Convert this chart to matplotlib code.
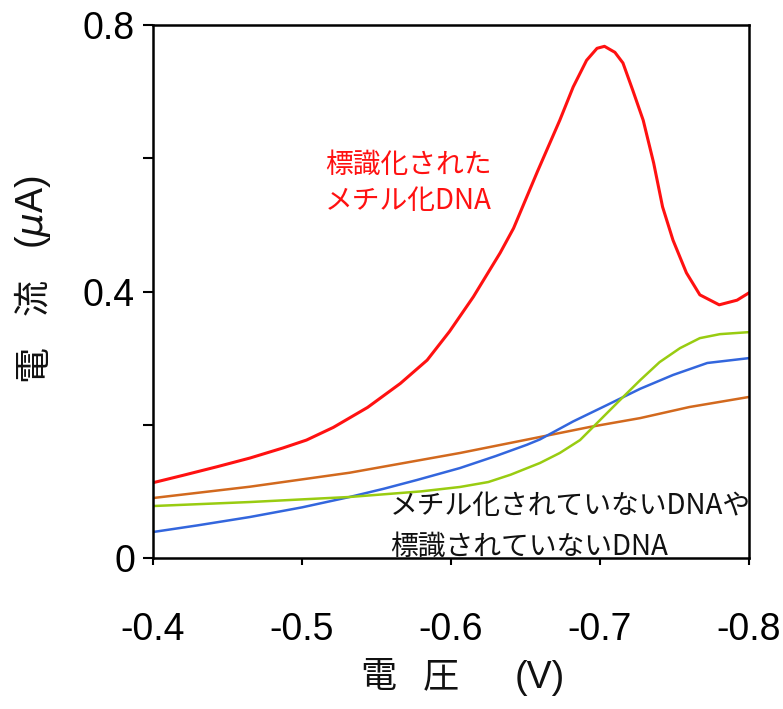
import matplotlib
matplotlib.use("Agg")
import matplotlib.pyplot as plt

# ---- data ----
red_x = [-0.400, -0.420, -0.443, -0.465, -0.487, -0.503, -0.521, -0.544, -0.566, -0.584, -0.599, -0.615,
         -0.633, -0.642, -0.658, -0.673, -0.682, -0.691, -0.698, -0.703, -0.710, -0.7154,
         -0.722, -0.729, -0.736, -0.742, -0.749, -0.758, -0.767, -0.780, -0.792, -0.800]
red_y = [0.113, 0.124, 0.137, 0.150, 0.165, 0.177, 0.196, 0.226, 0.262, 0.297, 0.340, 0.392,
         0.458, 0.495, 0.580, 0.657, 0.707, 0.747, 0.765, 0.768, 0.759, 0.743,
         0.702, 0.657, 0.593, 0.527, 0.477, 0.428, 0.395, 0.380, 0.387, 0.398]

blue_x = [-0.400, -0.430, -0.465, -0.500, -0.532, -0.555, -0.577, -0.606, -0.630, -0.651, -0.6597,
          -0.682, -0.7047, -0.727, -0.749, -0.772, -0.800]
blue_y = [0.039, 0.049, 0.0615, 0.076, 0.0916, 0.104, 0.117, 0.135, 0.153, 0.170, 0.178,
          0.205, 0.2296, 0.254, 0.2747, 0.2927, 0.300]

green_x = [-0.400, -0.465, -0.532, -0.580, -0.606, -0.625, -0.640, -0.6597, -0.673, -0.6866, -0.700,
           -0.7134, -0.727, -0.740, -0.7537, -0.767, -0.7805, -0.800]
green_y = [0.078, 0.084, 0.0916, 0.100, 0.1066, 0.114, 0.125, 0.1426, 0.1576, 0.177, 0.207,
           0.237, 0.267, 0.294, 0.315, 0.330, 0.336, 0.339]

orange_x = [-0.400, -0.465, -0.532, -0.606, -0.6597, -0.693, -0.727, -0.760, -0.800]
orange_y = [0.090, 0.107, 0.128, 0.1576, 0.1816, 0.1966, 0.210, 0.2266, 0.2417]

x_ticks = [-0.4, -0.5, -0.6, -0.7, -0.8]
x_ticklabels = ["-0.4", "-0.5", "-0.6", "-0.7", "-0.8"]
y_ticks = [0, 0.2, 0.4, 0.6, 0.8]
y_ticklabels = ["0", "", "0.4", "", "0.8"]

xlabel_parts = ["電", "圧", "(V)"]
ylabel_parts = ["電", "流", "($\\mu$A)"]
red_label = ["標識化された", "メチル化DNA"]
black_label = ["メチル化されていないDNAや", "標識されていないDNA"]

W, H = 783, 709
fig = plt.figure(figsize=(W / 100, H / 100), dpi=100)
ax = fig.add_axes([153 / W, 1 - 558 / H, (749 - 153) / W, (558 - 25) / H])

ax.plot(orange_x, orange_y, color="#d2691e", lw=1.8)
ax.plot(blue_x, blue_y, color="#3366dd", lw=1.8)
ax.plot(green_x, green_y, color="#99cc11", lw=1.8)
ax.plot(red_x, red_y, color="#ff1111", lw=2.2)

ax.set_xlim(-0.4, -0.8)
ax.set_ylim(0, 0.8)

ax.set_xticks(x_ticks)
ax.set_xticklabels(x_ticklabels)
ax.set_yticks(y_ticks)
ax.set_yticklabels(y_ticklabels)

for lab in ax.get_xticklabels() + ax.get_yticklabels():
    lab.set_fontfamily("Liberation Sans")
    lab.set_fontsize(27)

ax.tick_params(axis="x", direction="out", length=5, width=1.5, pad=34)
ax.tick_params(axis="y", direction="out", length=7, width=1.5, pad=6)
for s in ax.spines.values():
    s.set_linewidth(1.8)

cjk = ["Noto Sans CJK JP", "DejaVu Sans"]
latin = ["Liberation Sans", "DejaVu Sans"]

# x label pieces
fig.text(378 / W, 1 - 677 / H, xlabel_parts[0], ha="center", va="center",
         fontsize=26, family=cjk, color="#111111")
fig.text(441 / W, 1 - 677 / H, xlabel_parts[1], ha="center", va="center",
         fontsize=26, family=cjk, color="#111111")
fig.text(540 / W, 1 - 678 / H, xlabel_parts[2], ha="center", va="center",
         fontsize=27, family=latin, color="#111111")

# y label pieces (rotated)
fig.text(33 / W, 1 - 363 / H, ylabel_parts[0], ha="center", va="center",
         rotation=90, fontsize=26, family=cjk, color="#111111")
fig.text(33 / W, 1 - 297 / H, ylabel_parts[1], ha="center", va="center",
         rotation=90, fontsize=26, family=cjk, color="#111111")
fig.text(33 / W, 1 - 212 / H, ylabel_parts[2], ha="center", va="center",
         rotation=90, fontsize=27, family=latin, color="#111111")

fig.text(325 / W, 1 - 165 / H, red_label[0], ha="left", va="center",
         fontsize=20, family=cjk, color="#ff1111")
fig.text(325 / W, 1 - 201 / H, red_label[1], ha="left", va="center",
         fontsize=20, family=cjk, color="#ff1111")

fig.text(390 / W, 1 - 506 / H, black_label[0], ha="left", va="center",
         fontsize=20, family=cjk, color="#111111")
fig.text(390 / W, 1 - 547 / H, black_label[1], ha="left", va="center",
         fontsize=20, family=cjk, color="#111111")

fig.savefig("out.png", dpi=100)
